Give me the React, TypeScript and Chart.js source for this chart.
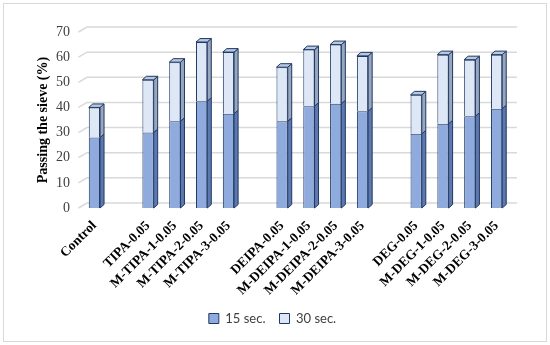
import React, { useEffect, useRef } from "react";
import { Chart, registerables } from "chart.js";

Chart.register(...registerables);

const categories = [
  "Control", "",
  "TIPA-0.05", "M-TIPA-1-0.05", "M-TIPA-2-0.05", "M-TIPA-3-0.05", "",
  "DEIPA-0.05", "M-DEIPA-1-0.05", "M-DEIPA-2-0.05", "M-DEIPA-3-0.05", "",
  "DEG-0.05", "M-DEG-1-0.05", "M-DEG-2-0.05", "M-DEG-3-0.05",
];
// 15 sec. values
const sec15 = [28, null, 30, 34.5, 42.5, 37.5, null, 34.5, 40.5, 41.5, 38.5, null, 29.5, 33.5, 36.5, 39.5];
// total at 30 sec.
const sec30Total = [40, null, 51, 58, 66, 62, null, 56, 63, 65, 60.5, null, 45, 61, 59, 61];
const sec30Extra = sec30Total.map((t, i) => (t == null || sec15[i] == null ? null : t - (sec15[i] as number)));
const yTicks = [0, 10, 20, 30, 40, 50, 60, 70];

const BORDER = "#1F3864";
const FILL15 = "#8FAADC";
const FILL30 = "#DEE7F6";
const SIDE15 = "#5D78AE";
const SIDE30 = "#98A6BE";
const TOP = "#B9C7E0";

const DX = 4;
const DY = 3.5;

const frameAndGrid = {
  id: "frameAndGrid",
  beforeDraw(chart: any) {
    const ctx = chart.ctx;
    ctx.save();
    ctx.fillStyle = "#fff";
    ctx.fillRect(0, 0, chart.width, chart.height);
    ctx.strokeStyle = "#D9D9D9";
    ctx.lineWidth = 1;
    ctx.strokeRect(3.5, 3.5, chart.width - 7, chart.height - 7);
    const y = chart.scales.y;
    const { left, right } = chart.chartArea;
    ctx.strokeStyle = "#D9D9D9";
    ctx.lineWidth = 1.5;
    for (const v of yTicks) {
      const py = y.getPixelForValue(v);
      ctx.beginPath();
      ctx.moveTo(left - 2.5, py);
      ctx.lineTo(left + 6, py - 5);
      ctx.lineTo(right + 7, py - 5);
      ctx.stroke();
    }
    ctx.restore();
  },
};

const bars3d = {
  id: "bars3d",
  afterDatasetsDraw(chart: any) {
    const ctx = chart.ctx;
    ctx.save();
    ctx.lineWidth = 1;
    ctx.strokeStyle = BORDER;
    ctx.lineJoin = "round";
    chart.data.datasets.forEach((ds: any, di: number) => {
      const meta = chart.getDatasetMeta(di);
      meta.data.forEach((el: any, i: number) => {
        const v = ds.data[i];
        if (v == null) return;
        const { x, y, base, width } = el.getProps(["x", "y", "base", "width"], true);
        const r = x + width / 2;
        const l = x - width / 2;
        ctx.fillStyle = di === 0 ? SIDE15 : SIDE30;
        ctx.beginPath();
        ctx.moveTo(r, y);
        ctx.lineTo(r + DX, y - DY);
        ctx.lineTo(r + DX, base - DY);
        ctx.lineTo(r, base);
        ctx.closePath();
        ctx.fill();
        ctx.stroke();
        if (di === chart.data.datasets.length - 1) {
          ctx.fillStyle = TOP;
          ctx.beginPath();
          ctx.moveTo(l, y);
          ctx.lineTo(l + DX, y - DY);
          ctx.lineTo(r + DX, y - DY);
          ctx.lineTo(r, y);
          ctx.closePath();
          ctx.fill();
          ctx.stroke();
        }
      });
    });
    ctx.restore();
  },
};

export default function App() {
  const ref = useRef<HTMLCanvasElement>(null);
  useEffect(() => {
    document.body.style.margin = "0";
    const chart = new Chart(ref.current as HTMLCanvasElement, {
      type: "bar",
      data: {
        labels: categories,
        datasets: [
          {
            label: "15 sec.",
            data: sec15 as any,
            backgroundColor: FILL15,
            borderColor: BORDER,
            borderWidth: 1,
            barPercentage: 0.42,
            categoryPercentage: 1,
          },
          {
            label: "30 sec.",
            data: sec30Extra as any,
            backgroundColor: FILL30,
            borderColor: BORDER,
            borderWidth: 1,
            barPercentage: 0.42,
            categoryPercentage: 1,
          },
        ],
      },
      options: {
        animation: false,
        responsive: false,
        maintainAspectRatio: false,
        layout: { padding: { left: 35, right: 40, top: 32, bottom: 10 } },
        plugins: {
          legend: {
            position: "bottom",
            labels: {
              boxWidth: 10,
              boxHeight: 10,
              padding: 14,
              color: "#404040",
              font: { family: "'Liberation Sans Narrow', Lato, sans-serif", size: 13 },
            },
          },
          tooltip: { enabled: false },
        },
        scales: {
          x: {
            stacked: true,
            grid: { display: false },
            border: { display: false },
            ticks: {
              autoSkip: false,
              maxRotation: 45,
              minRotation: 45,
              color: "#000",
              padding: 2,
              font: { family: "'Liberation Serif', 'Times New Roman', serif", size: 13.5, weight: "bold" },
            },
            afterFit(scale: any) {
              scale.height = 90;
            },
          },
          y: {
            stacked: true,
            min: 0,
            max: 70,
            grid: { display: false },
            border: { display: false },
            ticks: {
              stepSize: 10,
              padding: 3,
              color: "#404040",
              font: { family: "'Liberation Serif', 'Times New Roman', serif", size: 14 },
            },
            title: {
              display: true,
              text: "Passing the sieve (%)",
              color: "#000",
              padding: { top: 0, bottom: 4 },
              font: { family: "'Liberation Serif', 'Times New Roman', serif", size: 14, weight: "bold" },
            },
            afterFit(scale: any) {
              scale.width = 46;
            },
          },
        },
      },
      plugins: [frameAndGrid, bars3d],
    });
    return () => chart.destroy();
  }, []);
  return (
    <div style={{ width: 550, height: 345 }}>
      <canvas ref={ref} width={550} height={345} style={{ display: "block" }} />
    </div>
  );
}
